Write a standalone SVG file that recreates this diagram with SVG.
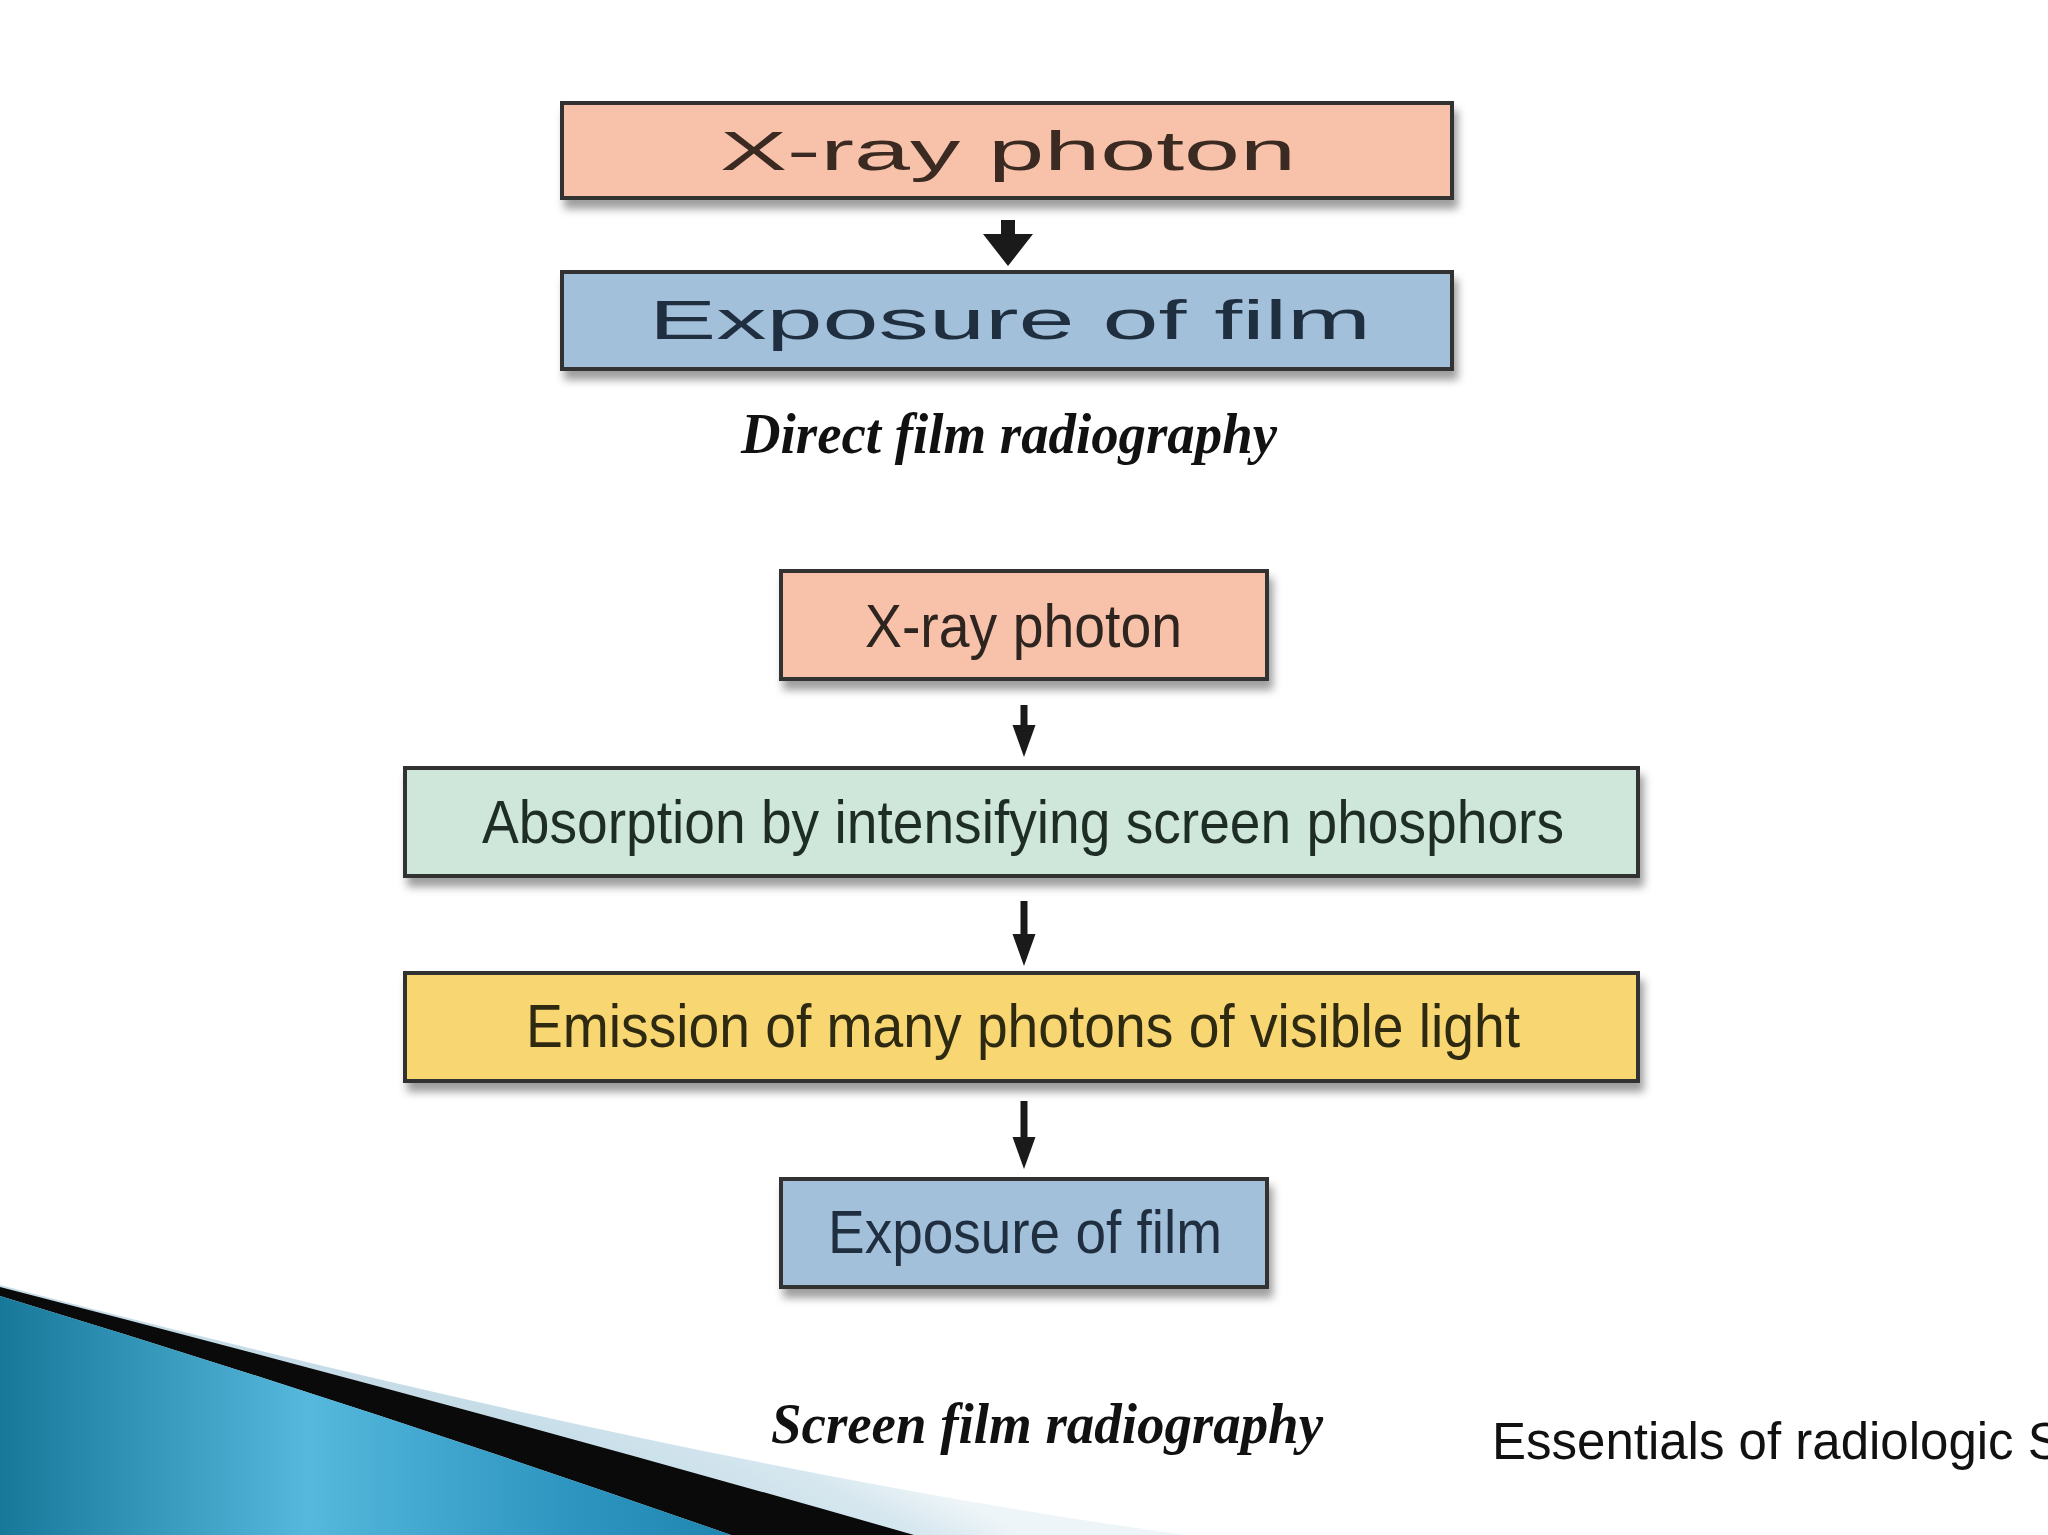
<svg xmlns="http://www.w3.org/2000/svg" width="2048" height="1535" viewBox="0 0 2048 1535">
  <style>
    .box { stroke: #333333; stroke-width: 4; filter: url(#sh); }
    .salmon { fill: #F8C2AA; }
    .blue { fill: #A3C0DA; }
    .green { fill: #CFE7DA; }
    .yellow { fill: #F8D672; }
    .wide { font-family: "Liberation Sans", Arial, sans-serif; font-size: 55px; }
    .cond { font-family: "Liberation Sans", Arial, sans-serif; font-size: 61px; }
    .cap { font-family: "Liberation Serif", "Times New Roman", serif; font-size: 56px; font-weight: bold; font-style: italic; fill: #111111; }
    .arrow { fill: #1a1a1a; }
  </style>
  <defs>
    <filter id="sh" x="-5%" y="-20%" width="115%" height="170%">
      <feDropShadow dx="4" dy="9" stdDeviation="4.5" flood-color="#000000" flood-opacity="0.38"/>
    </filter>
    <linearGradient id="blueGrad" gradientUnits="userSpaceOnUse" x1="0" y1="1400" x2="733" y2="1400">
      <stop offset="0" stop-color="#17789a"/>
      <stop offset="0.42" stop-color="#55b8dc"/>
      <stop offset="0.78" stop-color="#2d95c0"/>
      <stop offset="1" stop-color="#1f86b0"/>
    </linearGradient>
    <linearGradient id="paleGrad" gradientUnits="userSpaceOnUse" x1="760" y1="1400" x2="700" y2="1520">
      <stop offset="0" stop-color="#eef5f8"/>
      <stop offset="0.35" stop-color="#d6e7ef"/>
      <stop offset="1" stop-color="#c6dde8"/>
    </linearGradient>
  </defs>

  <rect x="0" y="0" width="2048" height="1535" fill="#ffffff"/>

  <!-- bottom-left decoration -->
  <g id="decoration">
    <path d="M0,1285 Q700,1468 1185,1535 L0,1535 Z" fill="url(#paleGrad)"/>
    <path d="M0,1287 Q460,1405 914,1535 L731,1535 Q360,1405 0,1296 Z" fill="#0a0a0a"/>
    <path d="M0,1296 Q360,1405 731,1535 L0,1535 Z" fill="url(#blueGrad)"/>
  </g>

  <!-- Direct film radiography -->
  <g id="d-xray">
    <rect class="box salmon" x="562" y="103" width="890" height="95"/>
    <text class="wide" x="720" y="170" textLength="576" lengthAdjust="spacingAndGlyphs" fill="#3a2a22">X-ray photon</text>
  </g>
  <g id="d-exposure">
    <rect class="box blue" x="562" y="272" width="890" height="97"/>
    <text class="wide" x="649" y="339" textLength="722" lengthAdjust="spacingAndGlyphs" fill="#1f2f40">Exposure of film</text>
  </g>
  <text id="caption-direct" class="cap" x="741" y="453" textLength="536" lengthAdjust="spacingAndGlyphs">Direct film radiography</text>

  <!-- Screen film radiography -->
  <g id="s-xray">
    <rect class="box salmon" x="781" y="571" width="486" height="108"/>
    <text class="cond" x="865" y="647" textLength="317" lengthAdjust="spacingAndGlyphs" fill="#2e2420">X-ray photon</text>
  </g>
  <g id="s-absorption">
    <rect class="box green" x="405" y="768" width="1233" height="108"/>
    <text class="cond" x="482" y="843" textLength="1082" lengthAdjust="spacingAndGlyphs" fill="#1e2e26">Absorption by intensifying screen phosphors</text>
  </g>
  <g id="s-emission">
    <rect class="box yellow" x="405" y="973" width="1233" height="108"/>
    <text class="cond" x="526" y="1047" textLength="994" lengthAdjust="spacingAndGlyphs" fill="#2e2a12">Emission of many photons of visible light</text>
  </g>
  <g id="s-exposure">
    <rect class="box blue" x="781" y="1179" width="486" height="108"/>
    <text class="cond" x="828" y="1253" textLength="394" lengthAdjust="spacingAndGlyphs" fill="#1f2f40">Exposure of film</text>
  </g>
  <text id="caption-screen" class="cap" x="771" y="1443" textLength="552" lengthAdjust="spacingAndGlyphs">Screen film radiography</text>

  <text id="source" x="1492" y="1459" font-family="'Liberation Sans', Arial, sans-serif" font-size="51" fill="#111111">Essentials of radiologic S</text>

  <!-- connectors -->
  <g id="connectors">
    <path class="arrow" d="M1001,220 L1015,220 L1015,234 L1033,234 L1008,266 L983,234 L1001,234 Z"/>
    <path class="arrow" d="M1020.5,705 L1027.5,705 L1027.5,725 L1035.5,725 L1024,757 L1012.5,725 L1020.5,725 Z"/>
    <path class="arrow" d="M1020.5,901 L1027.5,901 L1027.5,934 L1035.5,934 L1024,966 L1012.5,934 L1020.5,934 Z"/>
    <path class="arrow" d="M1020.5,1101 L1027.5,1101 L1027.5,1137 L1035.5,1137 L1024,1169 L1012.5,1137 L1020.5,1137 Z"/>
  </g>
</svg>
